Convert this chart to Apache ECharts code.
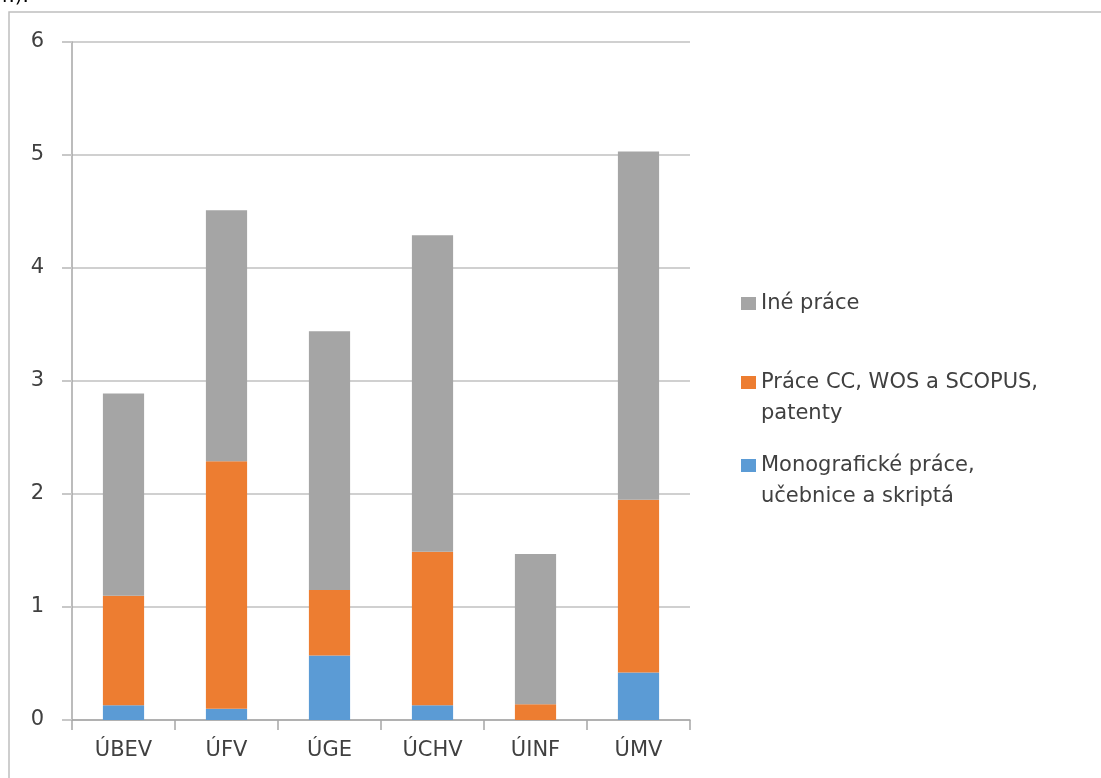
<!DOCTYPE html>
<html>
<head>
<meta charset="utf-8">
<script src="https://cdn.jsdelivr.net/npm/echarts@6/dist/echarts.min.js"></script>
<style>
html,body{margin:0;padding:0;background:#fff;}
#c{width:1101px;height:778px;}
</style>
</head>
<body>
<div id="c"></div>
<script>
var categories = ['ÚBEV', 'ÚFV', 'ÚGE', 'ÚCHV', 'ÚINF', 'ÚMV'];
var seriesNames = ['Monografické práce, učebnice a skriptá', 'Práce CC, WOS a SCOPUS, patenty', 'Iné práce'];
var monograficke = [0.13, 0.10, 0.57, 0.13, 0.00, 0.42];
var praceCC = [0.97, 2.19, 0.58, 1.36, 0.14, 1.53];
var ine = [1.79, 2.22, 2.29, 2.80, 1.33, 3.08];
var yTicks = [0, 1, 2, 3, 4, 5, 6];

var FONT = 'DejaVu Sans';
var chart = echarts.init(document.getElementById('c'), null, {renderer: 'canvas'});
var LH = 31;
function legendFor(name, top) {
  return {
    data: [name],
    orient: 'vertical',
    left: 736,
    top: top,
    itemWidth: 15,
    itemHeight: 13,
    itemGap: 0,
    icon: 'rect',
    selectedMode: false,
    formatter: function (n) {
      if (n === seriesNames[0]) return '\nMonografické práce,\nučebnice a skriptá';
      if (n === seriesNames[1]) return '\nPráce CC, WOS a SCOPUS,\npatenty';
      return n;
    },
    textStyle: {fontFamily: FONT, fontSize: 21, color: '#404040', lineHeight: LH}
  };
}
var option = {
  animation: false,
  backgroundColor: '#fff',
  grid: {left: 72, right: 411, top: 42, bottom: 58, containLabel: false},
  legend: [
    legendFor(seriesNames[2], 283),
    legendFor(seriesNames[1], 331),
    legendFor(seriesNames[0], 414)
  ],
  xAxis: {
    type: 'category',
    data: categories,
    axisLine: {show: true, lineStyle: {color: '#a6a6a6', width: 1.5}},
    axisTick: {show: true, length: 10, alignWithLabel: false, lineStyle: {color: '#a6a6a6', width: 1.5}},
    axisLabel: {fontFamily: FONT, fontSize: 21, color: '#404040', margin: 20}
  },
  yAxis: {
    type: 'value',
    min: 0, max: 6, interval: 1,
    axisLine: {show: true, lineStyle: {color: '#a6a6a6', width: 1.5}},
    axisTick: {show: true, length: 10, lineStyle: {color: '#c8c8c8', width: 2}},
    splitLine: {show: true, lineStyle: {color: '#d0d0d0', width: 2}},
    axisLabel: {fontFamily: FONT, fontSize: 21, color: '#404040', margin: 28,
      formatter: function (v) { return yTicks.indexOf(v) >= 0 ? String(v) : ''; }}
  },
  series: [
    {name: seriesNames[0], type: 'bar', stack: 'a', data: monograficke, barWidth: '40%', itemStyle: {color: '#5b9bd5'}},
    {name: seriesNames[1], type: 'bar', stack: 'a', data: praceCC, barWidth: '40%', itemStyle: {color: '#ed7d31'}},
    {name: seriesNames[2], type: 'bar', stack: 'a', data: ine, barWidth: '40%', itemStyle: {color: '#a5a5a5'}}
  ],
  graphic: [
    {type: 'polyline', silent: true, shape: {points: [[9, 778], [9, 12], [1101, 12]]}, style: {stroke: '#bfbfbf', lineWidth: 1.5, fill: null}},
    {type: 'text', left: 2, top: -13, silent: true, style: {text: 'r.).', font: '20px "' + FONT + '"', fill: '#000'}}
  ]
};
chart.setOption(option);
</script>
</body>
</html>
